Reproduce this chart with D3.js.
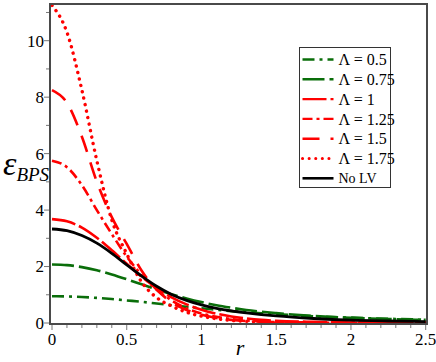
<!DOCTYPE html>
<html>
<head>
<meta charset="utf-8">
<script src="https://cdn.jsdelivr.net/npm/d3@7"></script>
<style>
  body { margin: 0; background: #fff; }
  svg text { font-family: 'Liberation Serif', 'DejaVu Serif', serif; }
</style>
</head>
<body>
<svg id="chart" width="436" height="362"></svg>
<script>
// radial positions shared by all curves
var rValues = [0, 0.1, 0.2, 0.3, 0.4, 0.5, 0.6, 0.7, 0.8, 0.9, 1.0, 1.1, 1.2, 1.3, 1.4, 1.5, 1.75, 2.0, 2.25, 2.5];

// energy density per curve
var lambda050 = [0.95, 0.94, 0.92, 0.89, 0.85, 0.80, 0.75, 0.69, 0.63, 0.57, 0.52, 0.47, 0.42, 0.38, 0.34, 0.31, 0.24, 0.19, 0.15, 0.12];
var lambda075 = [2.07, 2.05, 1.98, 1.87, 1.72, 1.55, 1.37, 1.19, 1.02, 0.87, 0.74, 0.63, 0.54, 0.46, 0.40, 0.35, 0.25, 0.18, 0.14, 0.11];
var lambda100 = [3.68, 3.60, 3.38, 3.02, 2.58, 2.10, 1.64, 1.24, 0.91, 0.66, 0.47, 0.33, 0.23, 0.16, 0.11, 0.08, 0.04, 0.02, 0.01, 0.005];
var lambda125 = [5.75, 5.52, 4.88, 4.00, 3.15, 2.35, 1.70, 1.18, 0.80, 0.52, 0.34, 0.22, 0.14, 0.09, 0.06, 0.04, 0.02, 0.01, 0.005, 0.003];
var lambda150 = [8.25, 7.80, 6.60, 5.00, 3.75, 2.80, 1.85, 1.18, 0.74, 0.46, 0.29, 0.18, 0.11, 0.07, 0.05, 0.03, 0.015, 0.008, 0.004, 0.002];
var lambda175 = [11.25, 10.3, 8.25, 5.75, 3.65, 2.45, 1.45, 0.90, 0.60, 0.38, 0.24, 0.15, 0.09, 0.06, 0.04, 0.02, 0.01, 0.005, 0.003, 0.002];
var noLV = [3.33, 3.27, 3.10, 2.83, 2.47, 2.06, 1.66, 1.30, 1.01, 0.80, 0.64, 0.52, 0.43, 0.36, 0.30, 0.25, 0.16, 0.10, 0.07, 0.05];

var seriesNames = ['\u039b = 0.5', '\u039b = 0.75', '\u039b = 1', '\u039b = 1.25', '\u039b = 1.5', '\u039b = 1.75', 'No LV'];
var seriesValues = [lambda050, lambda075, lambda100, lambda125, lambda150, lambda175, noLV];

var xTicks = [0, 0.5, 1, 1.5, 2, 2.5];
var yTicks = [0, 2, 4, 6, 8, 10];

var green = 'rgb(10,110,10)';
var red = 'rgb(255,0,0)';
var serif = "'Liberation Serif', 'DejaVu Serif', serif";

function seriesStyle(i) {
	switch(i) {
	case 0: return {color: green, dash: '12,5,3,5', cap: 'butt'};
	case 1: return {color: green, dash: '22,5', cap: 'butt'};
	case 2: return {color: red, dash: '24,4', cap: 'butt'};
	case 3: return {color: red, dash: '10,4,3,4', cap: 'butt'};
	case 4: return {color: red, dash: '17,11', cap: 'butt'};
	case 5: return {color: red, dash: '0.1,6.5', cap: 'round'};
	default: return {color: '#000', dash: null, cap: 'butt'};
	}
}

var svg = d3.select('#chart');

var x = d3.scaleLinear().domain([0, 2.5]).range([52, 425.7]);
var y = d3.scaleLinear().domain([0, 10]).range([323, 40.7]);

var plotLeft = 50, plotRight = 427, plotTop = 4, plotBottom = 324;

svg.append('clipPath').attr('id', 'clip')
	.append('rect')
	.attr('x', plotLeft).attr('y', plotTop)
	.attr('width', plotRight - plotLeft).attr('height', plotBottom - plotTop);

// curves
var line = d3.line()
	.x(function(d){ return x(d[0]); })
	.y(function(d){ return y(d[1]); })
	.curve(d3.curveMonotoneX);

var curves = svg.append('g').attr('clip-path', 'url(#clip)');

seriesValues.forEach(function(vals, i){
	var st = seriesStyle(i);
	curves.append('path')
		.datum(rValues.map(function(r, j){ return [r, vals[j]]; }))
		.attr('fill', 'none')
		.attr('stroke', st.color)
		.attr('stroke-width', i == 5 ? 3.4 : (i == 6 ? 2.8 : 2.6))
		.attr('stroke-dasharray', st.dash)
		.attr('stroke-linecap', st.cap)
		.attr('d', line);
});

// frame
svg.append('rect')
	.attr('x', plotLeft).attr('y', plotTop)
	.attr('width', plotRight - plotLeft).attr('height', plotBottom - plotTop)
	.attr('fill', 'none')
	.attr('stroke', '#4a4a4a')
	.attr('stroke-width', 2);

// x axis ticks
var xAxis = svg.append('g').attr('transform', 'translate(0,' + (plotBottom + 1) + ')');
d3.range(0, 26).forEach(function(k){
	xAxis.append('line')
		.attr('x1', x(k / 10)).attr('x2', x(k / 10))
		.attr('y1', 0).attr('y2', k % 5 == 0 ? 5 : 3)
		.attr('stroke', '#777').attr('stroke-width', 1);
});
xAxis.selectAll('text.tick')
	.data(xTicks)
	.enter().append('text')
	.attr('x', function(d){ return x(d); })
	.attr('y', 20)
	.attr('text-anchor', 'middle')
	.attr('font-family', serif)
	.style('font-size', '17px')
	.text(function(d){ return d; });

// y axis ticks
var yAxis = svg.append('g').attr('transform', 'translate(' + (plotLeft - 1) + ',0)');
d3.range(0, 12).forEach(function(k){
	yAxis.append('line')
		.attr('x1', 0).attr('x2', k % 2 == 0 ? -5 : -3)
		.attr('y1', y(k)).attr('y2', y(k))
		.attr('stroke', '#777').attr('stroke-width', 1);
});
yAxis.selectAll('text.tick')
	.data(yTicks)
	.enter().append('text')
	.attr('x', -5)
	.attr('y', function(d){ return y(d); })
	.attr('dy', '.35em')
	.attr('text-anchor', 'end')
	.attr('font-family', serif)
	.style('font-size', '17px')
	.text(function(d){ return d; });

// axis titles
svg.append('text')
	.attr('x', 240).attr('y', 355)
	.attr('text-anchor', 'middle')
	.attr('font-family', serif)
	.style('font-size', '22px')
	.style('font-style', 'italic')
	.text('r');

var yTitle = svg.append('text')
	.attr('x', 3).attr('y', 175)
	.attr('font-family', serif)
	.style('font-style', 'italic');
yTitle.append('tspan').style('font-size', '34px').text('\u03b5');
yTitle.append('tspan').attr('dy', 6).style('font-size', '19px').text('BPS');

// legend
var legend = svg.append('g').attr('transform', 'translate(299.5,47.5)');
legend.append('rect')
	.attr('width', 91).attr('height', 140)
	.attr('fill', '#fff')
	.attr('stroke', '#333')
	.attr('stroke-width', 1);

var items = legend.selectAll('g.item')
	.data(seriesNames)
	.enter().append('g')
	.attr('class', 'item')
	.attr('transform', function(d, i){ return 'translate(0,' + (12 + i * 19.8) + ')'; });

items.append('line')
	.attr('x1', 3).attr('x2', 34)
	.attr('y1', 0).attr('y2', 0)
	.attr('stroke', function(d, i){ return seriesStyle(i).color; })
	.attr('stroke-width', function(d, i){ return i == 5 ? 3 : (i == 6 ? 2.6 : 2.4); })
	.attr('stroke-dasharray', function(d, i){ return seriesStyle(i).dash; })
	.attr('stroke-linecap', function(d, i){ return seriesStyle(i).cap; });

items.append('text')
	.attr('x', 39)
	.attr('y', 0)
	.attr('dy', '.35em')
	.attr('font-family', serif)
	.style('font-size', function(d, i){ return i == 6 ? '14px' : '16px'; })
	.text(function(d){ return d; });
</script>
</body>
</html>
